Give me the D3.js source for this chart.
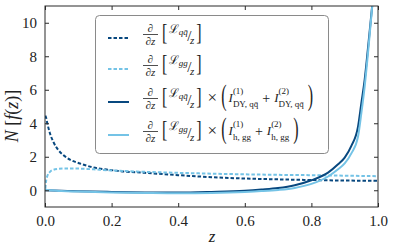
<!DOCTYPE html>
<html>
<head>
<meta charset="utf-8">
<script src="https://cdn.jsdelivr.net/npm/d3@7"></script>
<style>
  html, body { margin: 0; padding: 0; background: #fff; }
</style>
</head>
<body>
<svg id="chart" width="394" height="250"></svg>
<script>
// luminosity derivatives (dashed)
var zDash = [0.001, 0.003, 0.007, 0.015, 0.025, 0.04, 0.055, 0.075, 0.105, 0.145, 0.185, 0.225, 0.3, 0.4, 0.5, 0.6, 0.7, 0.8, 0.9, 1.0];
var lumQQ = [4.45, 4.35, 3.99, 3.39, 2.89, 2.40, 2.10, 1.83, 1.60, 1.36, 1.24, 1.14, 1.04, 0.90, 0.78, 0.70, 0.65, 0.61, 0.58, 0.56];
var lumGG = [0.10, 0.50, 0.85, 1.10, 1.22, 1.28, 1.30, 1.30, 1.29, 1.25, 1.20, 1.16, 1.10, 1.04, 0.99, 0.95, 0.92, 0.90, 0.87, 0.84];

// times the integrals (solid)
var zSolid = [0.0, 0.05, 0.1, 0.2, 0.3, 0.4, 0.5, 0.6, 0.65, 0.7, 0.75, 0.8, 0.85, 0.88, 0.9, 0.92, 0.94, 0.95, 0.96, 0.97, 0.98, 0.99];
var intQQ = [0.0, -0.03, -0.06, -0.10, -0.13, -0.14, -0.10, -0.03, 0.04, 0.13, 0.30, 0.60, 1.05, 1.55, 1.95, 2.65, 3.80, 5.20, 6.60, 8.50, 10.5, 12.5];
var intGG = [0.03, -0.05, -0.08, -0.13, -0.16, -0.18, -0.16, -0.10, -0.05, 0.02, 0.14, 0.38, 0.82, 1.25, 1.60, 2.20, 3.20, 4.60, 6.20, 8.20, 10.4, 12.6];

var xTicks = [0.0, 0.2, 0.4, 0.6, 0.8, 1.0];
var yTicks = [0, 2, 4, 6, 8, 10];

var darkBlue = "#08487f";
var lightBlue = "#74c3e6";
var serif = "'Liberation Serif', serif";

var svg = d3.select("#chart");
var m = {left: 45, right: 378, top: 6, bottom: 207};

var x = d3.scaleLinear().domain([0, 1]).range([m.left, m.right]);
var y = d3.scaleLinear().domain([-1, 11]).range([m.bottom, m.top]);

svg.append("defs").append("clipPath").attr("id", "clip")
  .append("rect").attr("x", m.left).attr("y", m.top)
  .attr("width", m.right - m.left).attr("height", m.bottom - m.top);

var line = d3.line().x(function(d) { return x(d[0]); }).y(function(d) { return y(d[1]); })
  .curve(d3.curveMonotoneX);

function pairs(xs, ys) { return xs.map(function(v, i) { return [v, ys[i]]; }); }

var series = [
  {data: pairs(zDash, lumQQ), color: darkBlue, dash: "3.5,2"},
  {data: pairs(zDash, lumGG), color: lightBlue, dash: "3.5,2"},
  {data: pairs(zSolid, intQQ), color: darkBlue, dash: null},
  {data: pairs(zSolid, intGG), color: lightBlue, dash: null}
];

var plot = svg.append("g").attr("clip-path", "url(#clip)");
series.forEach(function(s) {
  plot.append("path").datum(s.data)
    .attr("d", line)
    .attr("fill", "none")
    .attr("stroke", s.color)
    .attr("stroke-width", 2)
    .attr("stroke-dasharray", s.dash);
});

// frame, ticks in on every side
var axisColor = "#2a2a2a";
var axB = d3.axisBottom(x).tickValues(xTicks).tickFormat(d3.format(".1f")).tickSizeInner(-4).tickSizeOuter(0).tickPadding(8);
var axT = d3.axisTop(x).tickValues(xTicks).tickFormat("").tickSizeInner(-4).tickSizeOuter(0);
var axL = d3.axisLeft(y).tickValues(yTicks).tickFormat(d3.format("d")).tickSizeInner(-4).tickSizeOuter(0).tickPadding(8);
var axR = d3.axisRight(y).tickValues(yTicks).tickFormat("").tickSizeInner(-4).tickSizeOuter(0);

[[axB, "translate(0," + m.bottom + ")"], [axT, "translate(0," + m.top + ")"],
 [axL, "translate(" + m.left + ",0)"], [axR, "translate(" + m.right + ",0)"]].forEach(function(a) {
  var g = svg.append("g").attr("transform", a[1]).call(a[0]);
  g.select(".domain").remove();
  g.selectAll("line").attr("stroke", axisColor);
  g.selectAll("text").style("font-family", serif).attr("font-size", 15).attr("fill", "#222");
});

svg.append("rect").attr("x", m.left).attr("y", m.top)
  .attr("width", m.right - m.left).attr("height", m.bottom - m.top)
  .attr("fill", "none").attr("stroke", axisColor).attr("stroke-width", 1);

// axis labels
svg.append("text").attr("x", 212).attr("y", 242).attr("text-anchor", "middle")
  .style("font-family", serif).attr("fill", "#222")
  .attr("font-size", 17).attr("font-style", "italic").text("z");

var yl = svg.append("text").attr("transform", "translate(18,116) rotate(-90)")
  .style("font-family", serif).attr("fill", "#222")
  .attr("text-anchor", "middle").attr("font-size", 18);
yl.append("tspan").attr("font-style", "italic").text("N");
yl.append("tspan").text(" [");
yl.append("tspan").attr("font-style", "italic").text("f");
yl.append("tspan").text("(");
yl.append("tspan").attr("font-style", "italic").text("z");
yl.append("tspan").text(")]");

// legend
var leg = svg.append("g");
leg.append("rect").attr("x", 95.5).attr("y", 15.5).attr("width", 233).attr("height", 138)
  .attr("rx", 4).attr("fill", "#fff").attr("fill-opacity", 0.85)
  .attr("stroke", "#8a8a8a").attr("stroke-width", 1);

function put(g, px, py, str, size, italic, anchor) {
  var t = g.append("text").attr("x", px).attr("y", py).attr("font-size", size)
    .style("font-family", serif).attr("fill", "#222")
    .attr("font-style", italic ? "italic" : "normal")
    .attr("text-anchor", anchor || "start").text(str);
  return px + t.node().getComputedTextLength();
}

function tall(g, px, py, str, size, sy) {
  var t = g.append("text").attr("transform", "translate(" + px + "," + py + ") scale(1," + sy + ")")
    .style("font-family", serif).attr("fill", "#222")
    .attr("font-size", size).text(str);
  return px + t.node().getComputedTextLength();
}

function lumTerm(g, cy, sub) {
  var x0 = 143;
  put(g, x0 + 7.5, cy - 2.5, "\u2202", 11, true, "middle");
  g.append("line").attr("x1", x0).attr("x2", x0 + 15).attr("y1", cy + 0.5).attr("y2", cy + 0.5)
    .attr("stroke", "#222").attr("stroke-width", 0.8);
  put(g, x0 + 7.5, cy + 10.5, "\u2202z", 11, true, "middle");
  var cx = x0 + 19;
  cx = tall(g, cx, cy + 6, "[", 16, 1.45) + 1.5;
  cx = put(g, cx, cy - 1.5, "\u2112", 12, false);
  cx = put(g, cx, cy + 0.5, sub, 9, true) + 0.5;
  cx = put(g, cx - 1, cy + 7, "/", 15, false);
  cx = put(g, cx - 1.5, cy + 10, "z", 11, true) + 2;
  return tall(g, cx, cy + 6, "]", 16, 1.45);
}

function intTerm(g, cx, cy, sub) {
  cx = put(g, cx + 6, cy + 5, "\u00d7", 17, false) + 4;
  cx = tall(g, cx, cy + 7, "(", 16, 1.9) + 2;
  [1, 2].forEach(function(k) {
    var ix = put(g, cx, cy + 4, "I", 13, true);
    var a = put(g, ix, cy - 4, "(" + k + ")", 9, false);
    var b = put(g, ix, cy + 9, sub, 9, false);
    cx = Math.max(a, b) + 4;
    if (k === 1) cx = put(g, cx, cy + 5, "+", 14, false) + 4;
  });
  tall(g, cx, cy + 7, ")", 16, 1.9);
}

var rows = [
  {y: 38, color: darkBlue, dash: "3.5,2", sub: "qq\u0304", ints: null},
  {y: 69, color: lightBlue, dash: "3.5,2", sub: "gg", ints: null},
  {y: 102, color: darkBlue, dash: null, sub: "qq\u0304", ints: "DY, qq\u0304"},
  {y: 135, color: lightBlue, dash: null, sub: "gg", ints: "h, gg"}
];

rows.forEach(function(r) {
  leg.append("line").attr("x1", 108).attr("x2", 129).attr("y1", r.y).attr("y2", r.y)
    .attr("stroke", r.color).attr("stroke-width", 2).attr("stroke-dasharray", r.dash);
  var g = leg.append("g");
  var end = lumTerm(g, r.y - 4, r.sub);
  if (r.ints) intTerm(g, end, r.y - 4, r.ints);
});
</script>
</body>
</html>
